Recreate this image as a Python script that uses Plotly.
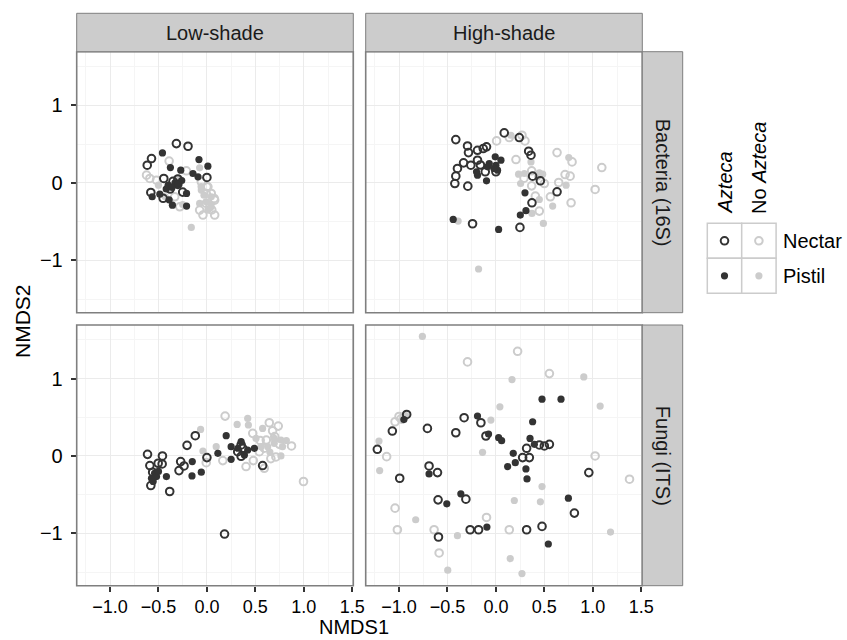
import plotly.graph_objects as go

# ---------------- data (NMDS coordinates) ----------------
facet_cols = ["Low-shade", "High-shade"]
facet_rows = ["Bacteria (16S)", "Fungi (ITS)"]
x_tick_vals = [-1.0, -0.5, 0.0, 0.5, 1.0, 1.5]
x_tick_text = ["\u22121.0", "\u22120.5", "0.0", "0.5", "1.0", "1.5"]
y_tick_vals = [-1, 0, 1]
y_tick_text = ["\u22121", "0", "1"]

# Bacteria, Low-shade
bl_an_x = [-0.315, -0.195, -0.572, -0.616, -0.445, 0.0, -0.579, -0.452, -0.35, -0.30, -0.25, -0.38, -0.30]
bl_an_y = [0.506, 0.472, 0.313, 0.227, 0.056, 0.069, -0.124, -0.20, 0.02, -0.02, -0.12, -0.08, 0.05]
bl_ap_x = [-0.459, -0.082, 0.01, -0.377, -0.27, -0.144, -0.092, -0.26, -0.33, -0.40, -0.42, -0.36, -0.30, -0.21, -0.21, -0.356, -0.565, -0.486, -0.39]
bl_ap_y = [0.386, 0.30, 0.215, 0.197, 0.163, 0.12, 0.077, 0.03, 0.0, -0.03, -0.08, -0.06, -0.02, -0.137, -0.30, -0.288, -0.18, -0.146, -0.22]
bl_nn_x = [-0.39, -0.623, -0.589, -0.52, -0.212, -0.058, 0.01, 0.045, 0.08, -0.007, -0.075, -0.041, 0.08, 0.03, 0.075, -0.007, -0.332, -0.28, 0.0, 0.05]
bl_nn_y = [0.28, 0.099, 0.056, 0.034, 0.155, 0.013, -0.052, -0.137, -0.223, -0.266, -0.352, -0.416, -0.416, -0.309, -0.202, -0.137, -0.18, -0.309, -0.05, -0.35]
bl_np_x = [-0.075, -0.161, -0.50, -0.43, -0.30, -0.058, -0.075, 0.01, 0.045, -0.007, -0.03, 0.04, -0.25, -0.06]
bl_np_y = [0.193, -0.575, -0.03, -0.18, 0.06, -0.094, -0.266, -0.352, -0.18, -0.245, -0.16, -0.30, -0.28, -0.05]

# Bacteria, High-shade
bh_an_x = [-0.414, 0.086, 0.241, -0.293, -0.283, -0.19, -0.131, -0.097, 0.338, 0.362, -0.334, -0.259, -0.19, -0.397, -0.414, -0.424, -0.29, -0.11, 0.0, 0.379, 0.459, 0.631, 0.372, -0.241, 0.248, -0.16]
bh_an_y = [0.558, 0.644, 0.584, 0.476, 0.39, 0.42, 0.442, 0.464, 0.408, 0.356, 0.258, 0.227, 0.292, 0.185, 0.086, -0.009, -0.043, 0.142, 0.142, 0.086, 0.026, -0.116, -0.258, -0.528, -0.575, 0.23]
bh_ap_x = [-0.007, 0.052, -0.069, 0.0, 0.017, -0.086, -0.19, -0.2, -0.097, 0.3, 0.31, 0.252, -0.441, 0.028, -0.02]
bh_ap_y = [0.335, 0.292, 0.249, 0.227, 0.163, 0.206, 0.099, 0.142, 0.026, -0.129, -0.36, -0.416, -0.472, -0.601, 0.185]
bh_nn_x = [0.007, 0.138, 0.269, 0.3, 0.207, 0.631, 0.786, 1.093, 0.369, 0.369, 0.5, 0.407, 0.562, 0.648, 0.714, 0.766, 0.776, 1.024, 0.448, 0.29]
bh_nn_y = [0.541, 0.584, 0.614, 0.541, 0.3, 0.39, 0.27, 0.197, 0.155, -0.039, -0.009, -0.172, -0.18, 0.004, 0.107, 0.086, -0.258, -0.086, -0.365, 0.06]
bh_np_x = [0.155, 0.752, 0.234, 0.293, 0.448, 0.483, 0.431, 0.255, 0.362, 0.724, 0.586, 0.448, 0.372, 0.49, -0.39, -0.179]
bh_np_y = [0.614, 0.326, 0.112, 0.12, 0.129, 0.112, 0.077, -0.009, 0.27, -0.03, -0.3, -0.215, -0.395, -0.524, -0.494, -1.112]

# Fungi, Low-shade
fl_an_x = [-0.613, -0.589, -0.459, -0.462, -0.503, -0.579, -0.384, -0.271, -0.288, -0.236, -0.205, -0.12, 0.0, 0.182, 0.353, 0.37, 0.318, 0.353, 0.575, -0.56]
fl_an_y = [0.021, -0.124, 0.0, -0.103, -0.094, -0.382, -0.459, -0.073, -0.189, -0.129, 0.137, 0.262, -0.021, -1.009, 0.142, 0.099, 0.056, -0.004, -0.124, -0.21]
fl_ap_x = [0.199, 0.25, 0.25, 0.113, -0.151, -0.154, -0.058, -0.418, -0.54, -0.572, -0.52, -0.555, -0.5, 0.353, 0.387, 0.421, 0.49, 0.32]
fl_ap_y = [0.262, 0.12, -0.043, 0.034, -0.073, -0.258, -0.21, -0.266, -0.223, -0.288, -0.266, -0.33, -0.2, 0.185, 0.013, 0.077, 0.099, 0.1]
fl_nn_x = [0.188, 0.644, 0.736, 0.678, 0.473, 0.873, 0.997, 0.404, 0.479, 0.164, -0.007, 0.592, 0.66, 0.712, 0.613, 0.541, 0.592, 0.75, 0.55, 0.7]
fl_nn_y = [0.515, 0.429, 0.386, 0.326, 0.292, 0.129, -0.33, -0.137, -0.06, -0.06, -0.086, -0.159, -0.034, -0.013, 0.206, 0.056, 0.10, 0.15, 0.2, 0.25]
fl_np_x = [0.421, 0.428, 0.312, -0.065, -0.041, 0.096, 0.575, 0.764, 0.78, 0.695, 0.627, 0.764, 0.507, 0.558, 0.695, 0.65, 0.82]
fl_np_y = [0.485, 0.4, 0.408, 0.343, 0.064, 0.12, 0.356, 0.206, 0.12, 0.163, 0.12, 0.0, 0.227, 0.12, 0.227, 0.05, 0.2]

# Fungi, High-shade
fh_an_x = [-0.921, -1.069, -1.224, -0.993, -0.707, -0.69, -0.603, -0.597, -0.593, -0.414, -0.328, -0.155, -0.103, -0.31, -0.266, -0.179, 0.276, 0.345, 0.317, 0.448, 0.5, 0.552, 0.317, 0.476, 0.81, 0.959]
fh_an_y = [0.536, 0.322, 0.086, -0.288, 0.356, -0.129, -0.215, -0.567, -1.047, 0.3, 0.494, 0.429, 0.258, -0.558, -0.953, -0.953, -0.021, -0.021, 0.099, 0.142, 0.129, 0.15, -0.953, -0.91, -0.738, -0.215]
fh_ap_x = [0.476, 0.672, -0.19, -0.076, 0.028, 0.059, 0.379, 0.352, 0.397, 0.179, 0.2, 0.121, 0.31, 0.321, -0.69, -0.362, -0.507, -0.093, 0.541, 0.748, -0.95]
fh_ap_y = [0.734, 0.734, 0.515, 0.283, 0.236, 0.197, 0.442, 0.227, 0.15, 0.034, -0.086, -0.137, -0.167, -0.296, -0.232, -0.489, -0.618, -0.918, -1.137, -0.545, 0.47]
fh_nn_x = [0.224, -0.293, 0.552, -1.041, -1.0, -0.98, -0.95, -1.128, -1.041, -1.017, -0.638, -0.586, -0.097, 0.138, 1.024, 1.379]
fh_nn_y = [1.352, 1.215, 1.064, 0.442, 0.51, 0.48, 0.5, -0.009, -0.674, -0.953, -0.953, -1.253, -0.794, -0.953, 0.0, -0.3]
fh_np_x = [-0.759, 0.166, 0.907, 1.076, 0.041, -0.052, -0.138, -1.207, -1.2, -0.97, -0.93, -0.828, -0.397, -0.497, 0.19, 0.148, 0.269, 0.476, 0.459, 1.183]
fh_np_y = [1.545, 0.987, 1.021, 0.644, 0.635, 0.464, 0.047, 0.193, -0.189, 0.46, 0.52, -0.824, -1.03, -1.476, -0.575, -1.326, -1.519, -0.395, -0.592, -0.983]

# ---------------- styling ----------------
W, H = 847, 640
FONT = "Liberation Sans"
DARK = "#333333"
LIGHT = "#cccccc"
BORDER = "#7f7f7f"
STRIP = "#cccccc"

X_RANGE = [-1.344, 1.511]
Y_RANGE = [-1.676, 1.692]

col_px = [(76.7, 353.3), (365.7, 642.3)]
row_px = [(51.7, 312.7), (325.0, 585.7)]
strip_top = (13.3, 51.7)
strip_right = (642.3, 682.7)


def px_x(v):
    return v / W


def px_y(v):
    return 1 - v / H


panels = [
    [(bl_an_x, bl_an_y, bl_ap_x, bl_ap_y, bl_nn_x, bl_nn_y, bl_np_x, bl_np_y),
     (bh_an_x, bh_an_y, bh_ap_x, bh_ap_y, bh_nn_x, bh_nn_y, bh_np_x, bh_np_y)],
    [(fl_an_x, fl_an_y, fl_ap_x, fl_ap_y, fl_nn_x, fl_nn_y, fl_np_x, fl_np_y),
     (fh_an_x, fh_an_y, fh_ap_x, fh_ap_y, fh_nn_x, fh_nn_y, fh_np_x, fh_np_y)],
]

OPEN_SIZE = 7.6
OPEN_LW = 2.0
FILL_SIZE = 7.2

fig = go.Figure()
shapes = []
annotations = []

for r in range(2):
    for c in range(2):
        idx = r * 2 + c + 1
        xa = "x" if idx == 1 else f"x{idx}"
        ya = "y" if idx == 1 else f"y{idx}"
        xkey = "xaxis" if idx == 1 else f"xaxis{idx}"
        ykey = "yaxis" if idx == 1 else f"yaxis{idx}"
        fig.update_layout(**{
            xkey: dict(
                domain=[px_x(col_px[c][0]), px_x(col_px[c][1])],
                range=X_RANGE, anchor=ya, showgrid=True, gridcolor="#ebebeb", gridwidth=1,
                zeroline=False, showline=False,
                tickmode="array", tickvals=x_tick_vals, ticktext=x_tick_text,
                showticklabels=(r == 1), ticks="outside" if r == 1 else "",
                ticklen=5, tickwidth=1.6, tickcolor=DARK,
                tickfont=dict(size=18, color="black", family=FONT),
                minor=dict(tick0=-1.25, dtick=0.5, showgrid=True, gridcolor="#f5f5f5", gridwidth=1),
            ),
            ykey: dict(
                domain=[px_y(row_px[r][1]), px_y(row_px[r][0])],
                range=Y_RANGE, anchor=xa, showgrid=True, gridcolor="#ebebeb", gridwidth=1,
                zeroline=False, showline=False,
                tickmode="array", tickvals=y_tick_vals,
                ticktext=[t + "\u2009" for t in y_tick_text],
                showticklabels=(c == 0), ticks="outside" if c == 0 else "",
                ticklen=5, tickwidth=1.6, tickcolor=DARK,
                tickfont=dict(size=20, color="black", family=FONT),
                minor=dict(tick0=-1.5, dtick=1, showgrid=True, gridcolor="#f5f5f5", gridwidth=1),
            ),
        })
        anx, any_, apx, apy, nnx, nny, npx, npy = panels[r][c]
        fig.add_trace(go.Scatter(x=nnx, y=nny, mode="markers", xaxis=xa, yaxis=ya,
                                 marker=dict(symbol="circle-open", size=OPEN_SIZE, color=LIGHT,
                                             line=dict(width=OPEN_LW, color=LIGHT))))
        fig.add_trace(go.Scatter(x=npx, y=npy, mode="markers", xaxis=xa, yaxis=ya,
                                 marker=dict(symbol="circle", size=FILL_SIZE, color=LIGHT)))
        fig.add_trace(go.Scatter(x=anx, y=any_, mode="markers", xaxis=xa, yaxis=ya,
                                 marker=dict(symbol="circle-open", size=OPEN_SIZE, color=DARK,
                                             line=dict(width=OPEN_LW, color=DARK))))
        fig.add_trace(go.Scatter(x=apx, y=apy, mode="markers", xaxis=xa, yaxis=ya,
                                 marker=dict(symbol="circle", size=FILL_SIZE, color=DARK)))
        shapes.append(dict(type="rect", xref="paper", yref="paper",
                           x0=px_x(col_px[c][0]), x1=px_x(col_px[c][1]),
                           y0=px_y(row_px[r][1]), y1=px_y(row_px[r][0]),
                           line=dict(color=BORDER, width=1.6), layer="above"))

# top strips
for c in range(2):
    shapes.append(dict(type="rect", xref="paper", yref="paper",
                       x0=px_x(col_px[c][0]), x1=px_x(col_px[c][1]),
                       y0=px_y(strip_top[1]), y1=px_y(strip_top[0]),
                       fillcolor=STRIP, line=dict(color=BORDER, width=1)))
    annotations.append(dict(text=facet_cols[c], xref="paper", yref="paper",
                            x=px_x((col_px[c][0] + col_px[c][1]) / 2),
                            y=px_y((strip_top[0] + strip_top[1]) / 2),
                            xanchor="center", yanchor="middle",
                            showarrow=False, font=dict(size=20, color="#1a1a1a", family=FONT)))
# right strips
for r in range(2):
    shapes.append(dict(type="rect", xref="paper", yref="paper",
                       x0=px_x(strip_right[0]), x1=px_x(strip_right[1]),
                       y0=px_y(row_px[r][1]), y1=px_y(row_px[r][0]),
                       fillcolor=STRIP, line=dict(color=BORDER, width=1)))
    annotations.append(dict(text=facet_rows[r], xref="paper", yref="paper",
                            x=px_x((strip_right[0] + strip_right[1]) / 2),
                            y=px_y((row_px[r][0] + row_px[r][1]) / 2),
                            xanchor="center", yanchor="middle",
                            textangle=90, showarrow=False,
                            font=dict(size=20, color="#1a1a1a", family=FONT)))

# axis titles
annotations.append(dict(text="NMDS1", xref="paper", yref="paper", x=px_x(354), y=px_y(627),
                        xanchor="center", yanchor="middle", borderpad=0,
                        showarrow=False, font=dict(size=20, color="black", family=FONT)))
annotations.append(dict(text="NMDS2", xref="paper", yref="paper", x=px_x(22), y=px_y(321),
                        xanchor="center", yanchor="middle",
                        textangle=-90, showarrow=False, font=dict(size=21, color="black", family=FONT)))

# ---------------- legend (drawn manually) ----------------
legend_cols = ["<i>Azteca</i>", "No <i>Azteca</i>"]
legend_rows = ["Nectar", "Pistil"]
key_x = [707.3, 741.7, 776.1]
key_y = [223.3, 258.3, 293.3]
for i in range(2):
    for j in range(2):
        shapes.append(dict(type="rect", xref="paper", yref="paper",
                           x0=px_x(key_x[j]), x1=px_x(key_x[j + 1]),
                           y0=px_y(key_y[i + 1]), y1=px_y(key_y[i]),
                           fillcolor="white", line=dict(color="#cccccc", width=1.5)))
kcx = [(key_x[0] + key_x[1]) / 2, (key_x[1] + key_x[2]) / 2]
kcy = [(key_y[0] + key_y[1]) / 2, (key_y[1] + key_y[2]) / 2]
key_style = [
    [(DARK, False), (LIGHT, False)],
    [(DARK, True), (LIGHT, True)],
]
for i in range(2):
    for j in range(2):
        col, filled = key_style[i][j]
        rad = 3.6 if filled else 3.8
        shapes.append(dict(type="circle", xref="paper", yref="paper",
                           x0=px_x(kcx[j] - rad), x1=px_x(kcx[j] + rad),
                           y0=px_y(kcy[i] + rad), y1=px_y(kcy[i] - rad),
                           fillcolor=col if filled else "rgba(0,0,0,0)",
                           line=dict(color=col, width=0 if filled else OPEN_LW)))
for j in range(2):
    annotations.append(dict(text=legend_cols[j], xref="paper", yref="paper",
                            x=px_x((key_x[j] + key_x[j + 1]) / 2), y=px_y(216),
                            xanchor="center", yanchor="bottom", textangle=-90, showarrow=False,
                            font=dict(size=20, color="black", family=FONT)))
for i in range(2):
    annotations.append(dict(text=legend_rows[i], xref="paper", yref="paper",
                            x=px_x(781), y=px_y((key_y[i] + key_y[i + 1]) / 2),
                            xanchor="left", yanchor="middle", showarrow=False,
                            font=dict(size=20, color="black", family=FONT)))

fig.update_layout(
    width=W, height=H, margin=dict(l=0, r=0, t=0, b=0, autoexpand=False),
    paper_bgcolor="white", plot_bgcolor="white", showlegend=False,
    font=dict(family=FONT, color="black"),
    shapes=shapes, annotations=annotations,
)
fig.write_html("out.html", config={"displayModeBar": False},
               post_script="document.body.style.margin='0px';")
